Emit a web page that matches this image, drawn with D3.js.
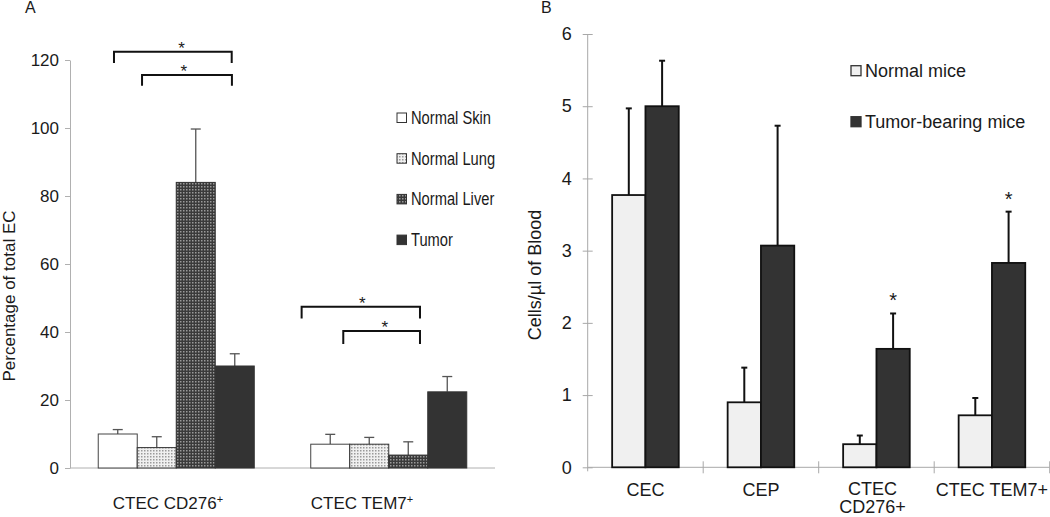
<!DOCTYPE html>
<html><head><meta charset="utf-8">
<script src="https://cdn.jsdelivr.net/npm/d3@7"></script>
<style>body{margin:0;background:#fff}svg{display:block}text{font-family:"Liberation Sans",Arial,sans-serif;fill:#1a1a1a}</style>
</head><body><svg id="c" width="1050" height="517"></svg>
<script>
// ---------- Panel A data ----------
const catsA = ["CTEC CD276", "CTEC TEM7"];
const seriesA = ["Normal Skin", "Normal Lung", "Normal Liver", "Tumor"];
const skinA = [10, 7];
const lungA = [6, 7];
const liverA = [84, 3.8];
const tumorA = [30, 22.4];
const skinErrA = [1.3, 2.9];
const lungErrA = [3.2, 2.0];
const liverErrA = [15.7, 3.9];
const tumorErrA = [3.6, 4.5];
const ticksA = [0, 20, 40, 60, 80, 100, 120];
// brackets: [x from, x to] in category units (0..2), y top, y leg bottom, star x
const bracketsA = [
  {x0: 0.207, x1: 0.761, y: 122.4, yb: 119.1, sx: 0.525},
  {x0: 0.339, x1: 0.762, y: 115.6, yb: 112.4, sx: 0.535},
  {x0: 1.090, x1: 1.647, y: 47.4, yb: 44.0, sx: 1.375},
  {x0: 1.286, x1: 1.647, y: 40.3, yb: 36.5, sx: 1.482}
];

// ---------- Panel B data ----------
const catsB = ["CEC", "CEP", "CTEC CD276+", "CTEC TEM7+"];
const seriesB = ["Normal mice", "Tumor-bearing mice"];
const normalB = [3.77, 0.9, 0.32, 0.72];
const tumorB = [5.0, 3.07, 1.64, 2.83];
const normalErrB = [1.2, 0.48, 0.12, 0.24];
const tumorErrB = [0.63, 1.66, 0.49, 0.71];
const starsB = [false, false, true, true];
const ticksB = [0, 1, 2, 3, 4, 5, 6];

const svg = d3.select("#c");
const defs = svg.append("defs");
// patterns
const pl = defs.append("pattern").attr("id", "lung").attr("patternUnits", "userSpaceOnUse").attr("width", 3).attr("height", 3);
pl.append("rect").attr("width", 3).attr("height", 3).attr("fill", "#f0f0f0");
pl.append("rect").attr("width", 1.5).attr("height", 1.5).attr("fill", "#9a9a9a");
const pv = defs.append("pattern").attr("id", "liver").attr("patternUnits", "userSpaceOnUse").attr("width", 3).attr("height", 3);
pv.append("rect").attr("width", 3).attr("height", 3).attr("fill", "#3a3a3a");
pv.append("rect").attr("width", 1.5).attr("height", 1.5).attr("fill", "#9a9a9a");
const fillsA = ["#ffffff", "url(#lung)", "url(#liver)", "#333333"];

// ================= Panel A =================
const xA = d3.scaleBand().domain(catsA).range([70, 495]).paddingInner(0).paddingOuter(0);
const xsA = d3.scaleBand().domain(seriesA).range([0, xA.bandwidth()]).paddingInner(0).paddingOuter(0.724);
const uA = d3.scaleLinear().domain([0, 2]).range([70, 495]);
const yA = d3.scaleLinear().domain([0, 120]).range([468, 60]);

const gA = svg.append("g");
const yAxA = gA.append("g").attr("transform", "translate(70,0)")
  .call(d3.axisLeft(yA).tickValues(ticksA).tickSize(5).tickSizeOuter(0).tickPadding(6).tickFormat(d3.format("d")));
yAxA.select(".domain").attr("stroke", "#b0b0b0");
yAxA.selectAll(".tick line").attr("stroke", "#b0b0b0");
yAxA.selectAll(".tick text").attr("font-size", 17).attr("fill", "#1a1a1a");
gA.append("line").attr("x1", 70).attr("x2", 495).attr("y1", yA(0)).attr("y2", yA(0)).attr("stroke", "#b0b0b0");

const dataA = [skinA, lungA, liverA, tumorA];
const errA = [skinErrA, lungErrA, liverErrA, tumorErrA];
seriesA.forEach((s, si) => {
  catsA.forEach((c, ci) => {
    const v = dataA[si][ci], e = errA[si][ci];
    const x = xA(c) + xsA(s), w = xsA.bandwidth(), cx = x + w / 2;
    gA.append("line").attr("x1", cx).attr("x2", cx).attr("y1", yA(v)).attr("y2", yA(v + e)).attr("stroke", "#555").attr("stroke-width", 1.3);
    gA.append("line").attr("x1", cx - 5).attr("x2", cx + 5).attr("y1", yA(v + e)).attr("y2", yA(v + e)).attr("stroke", "#555").attr("stroke-width", 1.3);
    gA.append("rect").attr("x", x).attr("y", yA(v)).attr("width", w).attr("height", yA(0) - yA(v))
      .attr("fill", fillsA[si]).attr("stroke", si === 0 ? "#444" : "#333").attr("stroke-width", 1);
  });
});
bracketsA.forEach(b => {
  gA.append("path").attr("d", `M${uA(b.x0)},${yA(b.yb)}V${yA(b.y)}H${uA(b.x1)}V${yA(b.yb)}`)
    .attr("fill", "none").attr("stroke", "#111").attr("stroke-width", 2);
  gA.append("text").attr("x", uA(b.sx)).attr("y", yA(b.y) + 2).attr("text-anchor", "middle")
    .attr("font-size", 17).attr("fill", "#333").text("*");
});
// x labels A
const labPosA = [0.461, 1.374];
catsA.forEach((c, i) => {
  const t = gA.append("text").attr("x", uA(labPosA[i])).attr("y", 509).attr("text-anchor", "middle").attr("font-size", 17);
  t.append("tspan").text(c);
  t.append("tspan").attr("font-size", 11).attr("dy", -6).text("+");
});
gA.append("text").attr("transform", "translate(15,296) rotate(-90)").attr("text-anchor", "middle").attr("font-size", 17).text("Percentage of total EC");
gA.append("text").attr("x", 25).attr("y", 13).attr("font-size", 16).text("A");
// legend A (condensed text)
seriesA.forEach((s, i) => {
  const cy = 118 + i * 40.7;
  gA.append("rect").attr("x", 397).attr("y", cy - 5).attr("width", 9.5).attr("height", 9.5)
    .attr("fill", fillsA[i]).attr("stroke", "#333").attr("stroke-width", 1);
  gA.append("text").attr("transform", `translate(411,${cy + 6}) scale(0.84,1)`).attr("font-size", 17.5).text(s);
});

// ================= Panel B =================
const xB = d3.scaleBand().domain(catsB).range([587.7, 1049.7]).paddingInner(0).paddingOuter(0);
const xsB = d3.scaleBand().domain(seriesB).range([0, xB.bandwidth()]).paddingInner(0).paddingOuter(0.734);
const yB = d3.scaleLinear().domain([0, 6]).range([467.3, 34]);
const gB = svg.append("g");
const yAxB = gB.append("g").attr("transform", "translate(587.7,0)")
  .call(d3.axisLeft(yB).tickValues(ticksB).tickSize(5).tickSizeOuter(0).tickPadding(11).tickFormat(d3.format("d")));
yAxB.select(".domain").attr("stroke", "#a8a8a8").attr("d", `M0,${yB(6)}V${yB(0) + 4}`);
yAxB.selectAll(".tick line").attr("stroke", "#a8a8a8").attr("x1", 5);
yAxB.selectAll(".tick text").attr("font-size", 18).attr("fill", "#1a1a1a");
gB.append("line").attr("x1", 587.7).attr("x2", 1049.7).attr("y1", yB(0)).attr("y2", yB(0)).attr("stroke", "#a8a8a8");
catsB.concat([null]).forEach((c, i) => {
  if (i === 0) return;
  const x = c ? xB(c) : xB.range()[1];
  gB.append("line").attr("x1", x).attr("x2", x).attr("y1", yB(0) - 6).attr("y2", yB(0) + 6).attr("stroke", "#a8a8a8");
});
const fillsB = ["#f0f0f0", "#333333"];
const dataB = [normalB, tumorB], errB = [normalErrB, tumorErrB];
seriesB.forEach((s, si) => {
  catsB.forEach((c, ci) => {
    const v = dataB[si][ci], e = errB[si][ci];
    const x = xB(c) + xsB(s), w = xsB.bandwidth(), cx = x + w / 2;
    gB.append("line").attr("x1", cx).attr("x2", cx).attr("y1", yB(v)).attr("y2", yB(v + e)).attr("stroke", "#111").attr("stroke-width", 2);
    gB.append("line").attr("x1", cx - 3).attr("x2", cx + 3).attr("y1", yB(v + e)).attr("y2", yB(v + e)).attr("stroke", "#111").attr("stroke-width", 2);
    gB.append("rect").attr("x", x).attr("y", yB(v)).attr("width", w).attr("height", yB(0) - yB(v))
      .attr("fill", fillsB[si]).attr("stroke", "#111").attr("stroke-width", 1.8);
    if (si === 1 && starsB[ci]) {
      gB.append("text").attr("x", cx).attr("y", yB(v + e) - 6).attr("text-anchor", "middle").attr("font-size", 20).text("*");
    }
  });
});
// x labels B
catsB.forEach((c, i) => {
  const cx = xB(c) + xB.bandwidth() / 2;
  if (c === "CTEC CD276+") {
    gB.append("text").attr("x", cx - 4).attr("y", 495).attr("text-anchor", "middle").attr("font-size", 18).text("CTEC");
    gB.append("text").attr("x", cx - 4).attr("y", 513).attr("text-anchor", "middle").attr("font-size", 18).text("CD276+");
  } else {
    gB.append("text").attr("x", cx).attr("y", 496).attr("text-anchor", "middle").attr("font-size", 18).text(c);
  }
});
gB.append("text").attr("transform", "translate(541,275) rotate(-90)").attr("text-anchor", "middle").attr("font-size", 18).text("Cells/µl of Blood");
gB.append("text").attr("x", 541).attr("y", 13).attr("font-size", 16).text("B");
// legend B
seriesB.forEach((s, i) => {
  const cy = 70.7 + i * 51;
  gB.append("rect").attr("x", 851).attr("y", cy - 5).attr("width", 10).attr("height", 10)
    .attr("fill", fillsB[i]).attr("stroke", "#333").attr("stroke-width", 1.3);
  gB.append("text").attr("x", 865).attr("y", cy + 6.5).attr("font-size", 18).text(s);
});
</script></body></html>
